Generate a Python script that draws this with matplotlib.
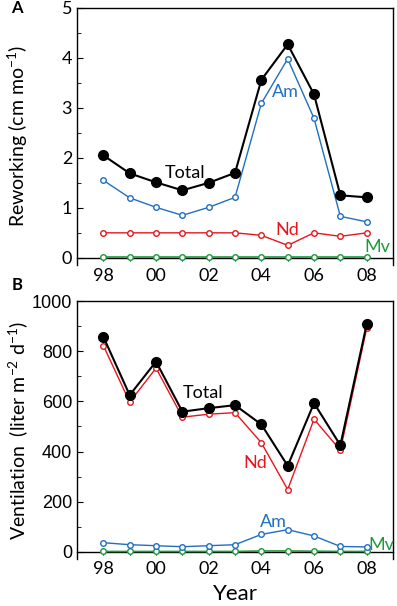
import matplotlib.pyplot as plt
from matplotlib.ticker import MultipleLocator, FixedLocator

plt.rcParams['font.family'] = ['Lato', 'DejaVu Sans']
plt.rcParams['mathtext.fontset'] = 'custom'
plt.rcParams['mathtext.rm'] = 'Lato'
plt.rcParams['mathtext.it'] = 'Lato:italic'

years = [1998, 1999, 2000, 2001, 2002, 2003, 2004, 2005, 2006, 2007, 2008]
year_labels = ['98', '', '00', '', '02', '', '04', '', '06', '', '08']

# panel A - reworking (cm mo-1)
rw_total = [2.05, 1.69, 1.51, 1.35, 1.50, 1.70, 3.56, 4.27, 3.27, 1.25, 1.21]
rw_am = [1.55, 1.20, 1.01, 0.85, 1.01, 1.21, 3.09, 3.98, 2.79, 0.83, 0.72]
rw_nd = [0.50, 0.50, 0.50, 0.50, 0.50, 0.50, 0.45, 0.25, 0.50, 0.43, 0.50]
rw_mv = [0.01, 0.01, 0.01, 0.01, 0.01, 0.01, 0.01, 0.01, 0.01, 0.01, 0.01]

# panel B - ventilation (liter m-2 d-1)
ve_total = [858, 625, 759, 559, 573, 585, 508, 343, 593, 425, 908]
ve_nd = [823, 597, 733, 537, 549, 555, 435, 248, 529, 405, 892]
ve_am = [36, 28, 24, 20, 24, 28, 69, 88, 63, 21, 19]
ve_mv = [1, 1, 1, 1, 1, 1, 3, 3, 2, 1, 1]

BLUE = '#1f6fc2'
RED = '#e8161c'
GREEN = '#1b9a3c'

fig = plt.figure(figsize=(3.97, 6.06), dpi=100)
axA = fig.add_axes([0.194, 0.563, 0.796, 0.424])
axB = fig.add_axes([0.194, 0.078, 0.796, 0.425])


def style(ax):
    ax.set_xlim(1997, 2009)
    ax.spines['bottom'].set_position(('data', 0))
    for s in ax.spines.values():
        s.set_linewidth(1.0)
    ax.xaxis.set_major_locator(FixedLocator(years))
    ax.set_xticklabels(year_labels)
    ax.tick_params(axis='x', direction='inout', length=4, labelsize=13, pad=5)
    ax.tick_params(axis='y', which='major', direction='in', length=4, labelsize=13)
    ax.tick_params(axis='y', which='minor', direction='in', length=3)
    ax.tick_params(right=False, top=False)
    ax.yaxis.set_label_coords(-0.148, 0.5)


def series(ax, tot, am, nd, mv):
    ax.plot(years, mv, '-o', color=GREEN, lw=1.2, ms=4, mfc='white', mec=GREEN, mew=1, zorder=3)
    ax.plot(years, nd, '-o', color=RED, lw=1.0, ms=4, mfc='white', mec=RED, mew=1, zorder=4)
    ax.plot(years, am, '-o', color=BLUE, lw=1.0, ms=4, mfc='white', mec=BLUE, mew=1, zorder=4)
    ax.plot(years, tot, '-o', color='black', lw=1.5, ms=7, zorder=5)


series(axA, rw_total, rw_am, rw_nd, rw_mv)
style(axA)
axA.set_ylim(-0.14, 5)
axA.yaxis.set_major_locator(MultipleLocator(1))
axA.yaxis.set_minor_locator(MultipleLocator(0.5))
axA.set_ylabel('Reworking (cm mo$^{-1}$)', fontsize=14)
axA.text(2001.1, 1.70, 'Total', fontsize=13, ha='center', va='center')
axA.text(2004.9, 3.32, 'Am', fontsize=13, color=BLUE, ha='center', va='center')
axA.text(2005.0, 0.56, 'Nd', fontsize=13, color=RED, ha='center', va='center')
axA.text(2008.4, 0.22, 'Mv', fontsize=13, color=GREEN, ha='center', va='center')

series(axB, ve_total, ve_am, ve_nd, ve_mv)
style(axB)
axB.set_ylim(-28, 1000)
axB.yaxis.set_major_locator(MultipleLocator(200))
axB.yaxis.set_minor_locator(MultipleLocator(100))
for lb in axB.get_yticklabels():
    lb.set_fontfamily('Liberation Sans')
axB.set_ylabel('Ventilation  (liter m$^{-2}$ d$^{-1}$)', fontsize=14)
axB.set_xlabel('Year', fontsize=16, labelpad=5)
axB.text(2001.8, 632, 'Total', fontsize=13, ha='center', va='center')
axB.text(2003.75, 353, 'Nd', fontsize=13, color=RED, ha='center', va='center')
axB.text(2004.45, 118, 'Am', fontsize=13, color=BLUE, ha='center', va='center')
axB.text(2008.55, 27, 'Mv', fontsize=13, color=GREEN, ha='center', va='center')

fig.text(0.043, 0.987, 'A', fontsize=12, fontweight='bold', ha='center', va='center')
fig.text(0.043, 0.530, 'B', fontsize=12, fontweight='bold', ha='center', va='center')

fig.savefig('out.png', dpi=100)
